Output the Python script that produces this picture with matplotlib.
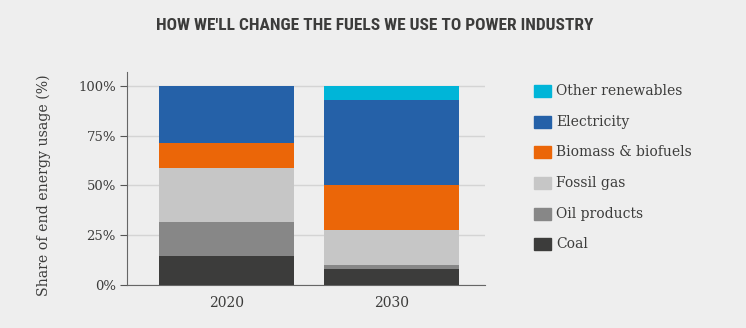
import numpy as np
import matplotlib
matplotlib.use("Agg")
import matplotlib.pyplot as plt
from matplotlib.patches import Rectangle
from matplotlib import font_manager

# Data
years = ["2020", "2030"]
coal = [14.6, 8.2]
oil_products = [17.1, 2.0]
fossil_gas = [27.1, 17.6]
biomass = [12.6, 22.5]
electricity = [28.6, 42.8]
other_renewables = [0.0, 6.9]

series_names = ["Coal", "Oil products", "Fossil gas", "Biomass & biofuels",
                "Electricity", "Other renewables"]
series_values = [coal, oil_products, fossil_gas, biomass, electricity, other_renewables]
colors = ["#3c3c3b", "#878787", "#c6c6c6", "#eb6608", "#2561a8", "#00b5d8"]

bg = "#eeeeee"
text_col = "#3c3c3b"

plt.rcParams["font.family"] = ["DejaVu Serif"]

fig = plt.figure(figsize=(7.46, 3.28), dpi=100, facecolor=bg)
ax = fig.add_axes([127 / 746, 43 / 328, (485 - 127) / 746, (285 - 72) / 328])
ax.set_facecolor(bg)

x = np.arange(len(years))
bottom = np.zeros(len(years))
for name, vals, c in zip(series_names, series_values, colors):
    ax.bar(x, vals, bottom=bottom, width=0.82, color=c, label=name, zorder=3)
    bottom += np.array(vals)

ax.set_xlim(-0.603, 1.567)
ax.set_ylim(0, 107)
ax.set_yticks([0, 25, 50, 75, 100])
ax.set_yticklabels(["0%", "25%", "50%", "75%", "100%"])
ax.set_xticks(x)
ax.set_xticklabels(years)
ax.yaxis.grid(True, color="#d4d4d4", linewidth=1, zorder=0)
ax.tick_params(axis="y", length=5, color="#555555", labelcolor=text_col, labelsize=9.5, pad=3)
ax.tick_params(axis="x", length=0, labelcolor=text_col, labelsize=10, pad=8)
for s in ["top", "right"]:
    ax.spines[s].set_visible(False)
ax.spines["left"].set_color("#666666")
ax.spines["bottom"].set_color("#666666")
ax.set_ylabel("Share of end energy usage (%)", color=text_col, fontsize=10.2)
ax.yaxis.set_label_coords(-0.213, 0.47)

# legend, top entry first
rows_y = [91, 122, 152, 183, 214, 244]
for name, c, py in zip(series_names[::-1], colors[::-1], rows_y):
    fig.patches.append(Rectangle((534 / 746, (328 - py - 6) / 328), 17 / 746, 12 / 328,
                                 transform=fig.transFigure, color=c))
    fig.text(556 / 746, (328 - py) / 328, name, va="center", ha="left",
             fontsize=10, color=text_col)

# condensed face for the title if one is installed
names = {f.name for f in font_manager.fontManager.ttflist}
title_fams = [n for n in ["Liberation Sans Narrow", "DejaVu Sans Condensed", "Roboto Condensed"]
              if n in names]
title_kw = dict(family=title_fams[:1] + ["DejaVu Sans"], fontweight="bold")
if title_fams:
    title_kw["fontsize"] = 12.5
else:
    title_kw["fontsize"] = 9.5
fig.text(375 / 746, (328 - 26) / 328, "HOW WE'LL CHANGE THE FUELS WE USE TO POWER INDUSTRY",
         ha="center", va="center", color=text_col, fontstretch="condensed", **title_kw)

fig.savefig("out.png", dpi=100, facecolor=bg)
